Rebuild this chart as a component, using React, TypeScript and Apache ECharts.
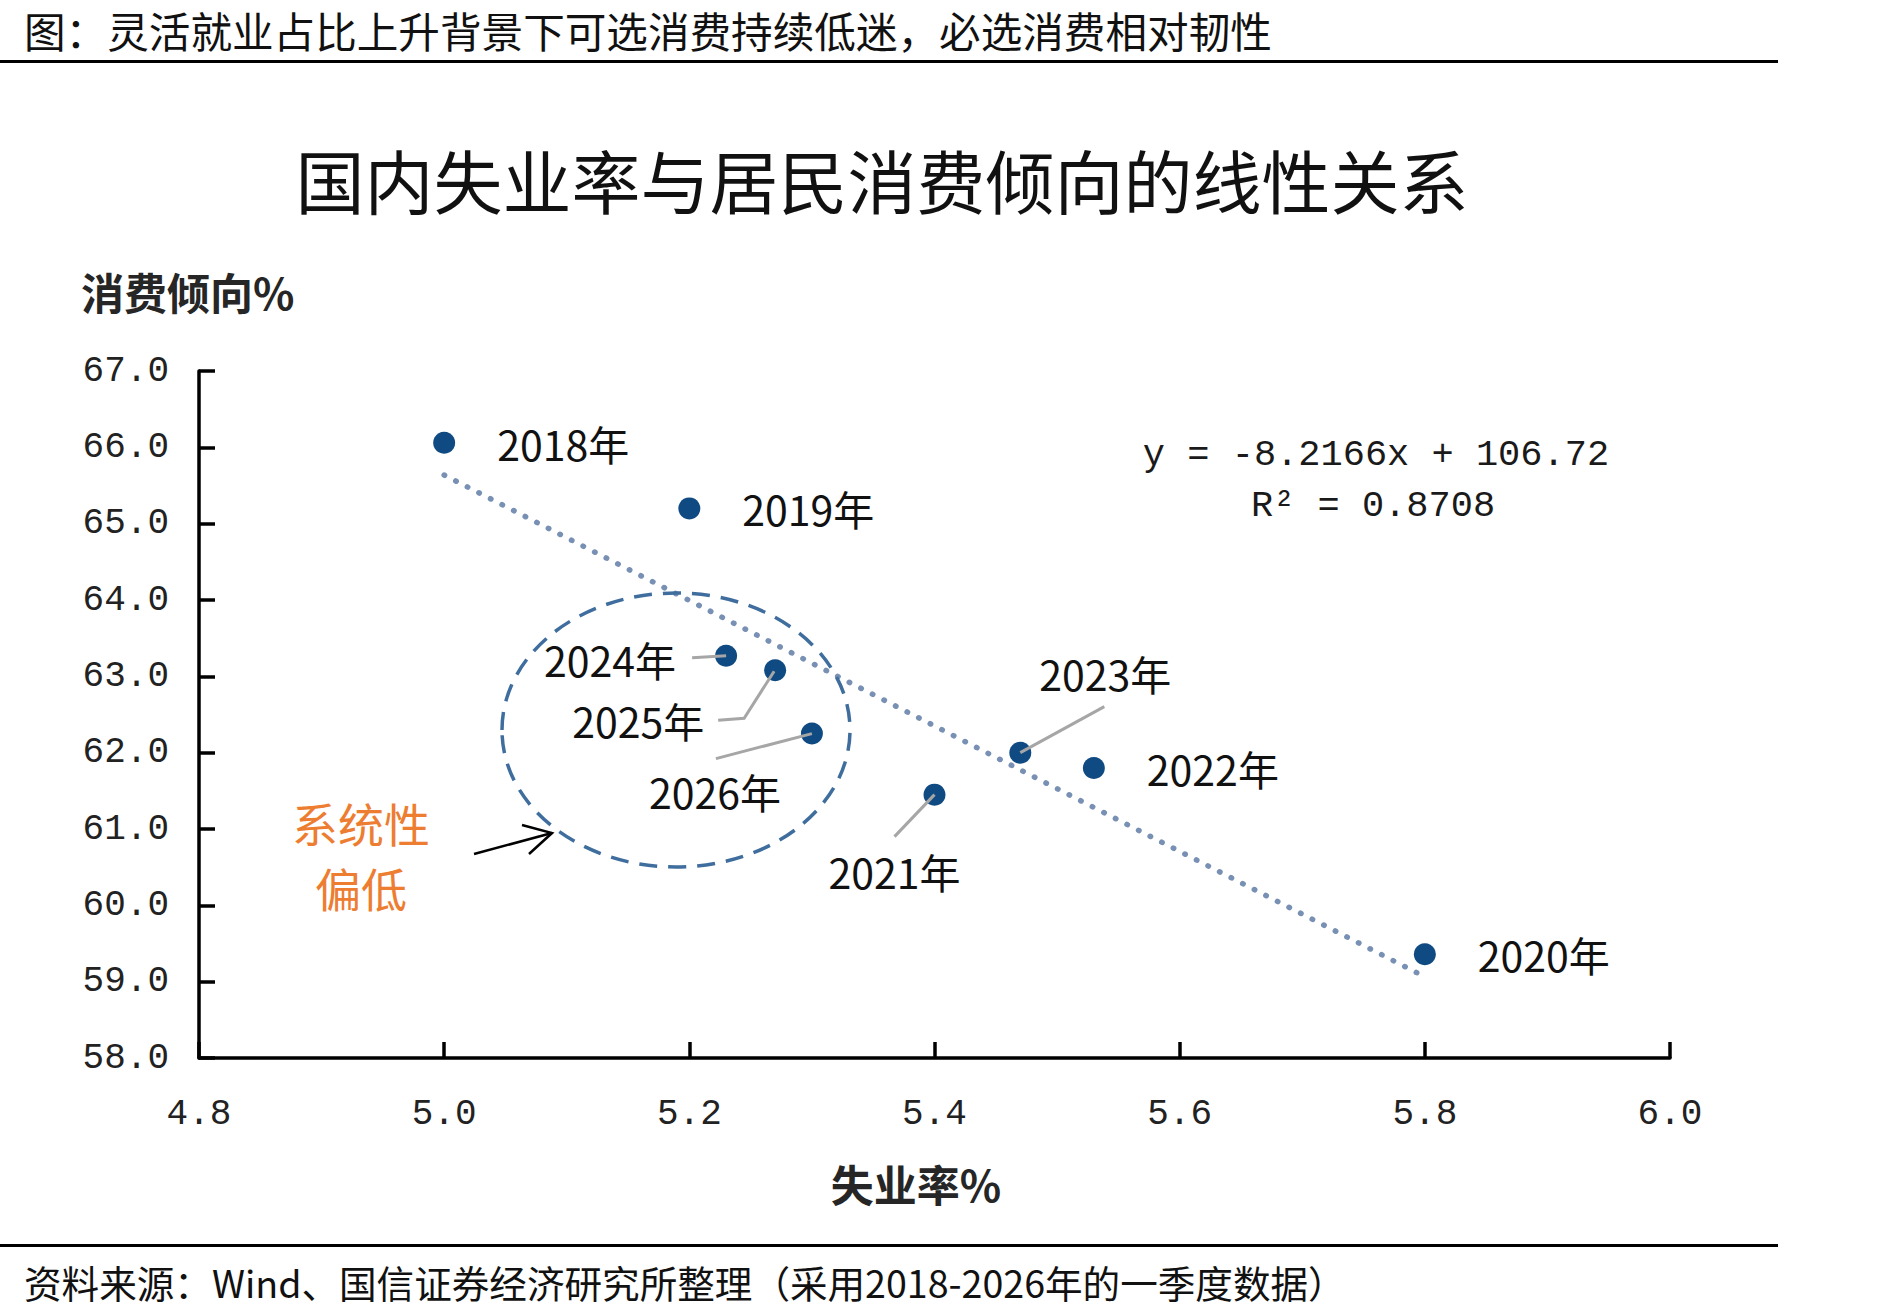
import React, { useEffect, useRef } from "react";
import * as echarts from "echarts";

// Q1 observations: urban surveyed unemployment rate (%) vs. consumption propensity (%)
const years = ["2018年", "2019年", "2020年", "2021年", "2022年", "2023年", "2024年", "2025年", "2026年"];
const unemployment = [5.0, 5.2, 5.8, 5.4, 5.53, 5.47, 5.23, 5.27, 5.3];
const propensity = [66.06, 65.2, 59.36, 61.45, 61.8, 62.0, 63.27, 63.08, 62.25];

// Fitted linear trend
const trendSlope = -8.2166;
const trendIntercept = 106.72;
const trendR2 = 0.8708;
const trendFrom = 5.0;
const trendTo = 5.8;

// Axis ranges
const xMin = 4.8;
const xMax = 6.0;
const xStep = 0.2;
const yMin = 58;
const yMax = 67;
const yStep = 1;

const headerText = "图：灵活就业占比上升背景下可选消费持续低迷，必选消费相对韧性";
const chartTitle = "国内失业率与居民消费倾向的线性关系";
const yName = "消费倾向%";
const xName = "失业率%";
const noteLines = ["系统性", "偏低"];
const sourceText = "资料来源：Wind、国信证券经济研究所整理（采用2018-2026年的一季度数据）";

const CJK = '"Noto Sans CJK SC", "Noto Sans", sans-serif';
const MONO = '"Liberation Mono", "DejaVu Sans Mono", monospace';
const DOT = "#0f4a82";
const LEADER = "#a6a6a6";

// Label placement (pixel offsets from the marker centre); unlisted years sit to the right
const labelPlacement: Record<string, { offset: [number, number]; leader: [number, number][] }> = {
  "2024年": { offset: [-116, 3], leader: [[-34, 2], [0, 0]] },
  "2025年": { offset: [-137, 50], leader: [[-57, 50], [-31, 48], [-1, 1]] },
  "2026年": { offset: [-97, 57], leader: [[-96, 25], [0, 0]] },
  "2021年": { offset: [-40, 76], leader: [[-40, 42], [0, 0]] },
  "2023年": { offset: [85, -80], leader: [[84, -46], [0, 0]] },
};

function staticGraphics(): any[] {
  const txt = (text: string, x: number, y: number, size: number, opts: any = {}) => ({
    type: "text",
    x,
    y,
    z: 20,
    style: {
      text,
      fill: opts.fill || "#111",
      font: `${opts.weight || "normal"} ${size}px ${opts.family || CJK}`,
      textAlign: opts.align || "left",
      textVerticalAlign: "middle",
      lineHeight: Math.round(size * 1.08),
    },
  });
  return [
    txt(headerText, 24, 30, 41.6),
    { type: "rect", shape: { x: 0, y: 60, width: 1778, height: 3 }, style: { fill: "#000" } },
    txt(chartTitle, 882, 179, 69, { align: "center" }),
    txt(yName, 81, 291, 43, { weight: "bold", fill: "#262626" }),
    txt(xName, 916, 1183, 43, { weight: "bold", fill: "#262626", align: "center" }),
    txt(`y = ${trendSlope.toFixed(4)}x + ${trendIntercept.toFixed(2)}`, 1376, 455, 37, {
      family: MONO,
      align: "center",
      fill: "#1a1a1a",
    }),
    txt(`R² = ${trendR2.toFixed(4)}`, 1373, 506, 37, { family: MONO, align: "center", fill: "#1a1a1a" }),
    {
      type: "ellipse",
      z: 15,
      shape: { cx: 676, cy: 730, rx: 174, ry: 137 },
      style: { fill: "none", stroke: "#3f6e9e", lineWidth: 3.5, lineDash: [18, 11] },
    },
    txt(noteLines[0], 361, 822, 46, { fill: "#ed7d31", align: "center" }),
    txt(noteLines[1], 361, 887, 46, { fill: "#ed7d31", align: "center" }),
    {
      type: "polyline",
      z: 15,
      shape: { points: [[474, 854], [552, 833]] },
      style: { stroke: "#000", lineWidth: 2.5, fill: "none" },
    },
    {
      type: "polyline",
      z: 15,
      shape: { points: [[522, 825], [552, 833], [529, 854]] },
      style: { stroke: "#000", lineWidth: 2.5, fill: "none" },
    },
    { type: "rect", shape: { x: 0, y: 1244, width: 1778, height: 3 }, style: { fill: "#000" } },
    txt(sourceText, 24, 1281, 37.6),
  ];
}

export default function App() {
  const ref = useRef<HTMLDivElement>(null);

  useEffect(() => {
    if (!ref.current) return;
    const chart = echarts.init(ref.current, undefined, { renderer: "svg" });

    const points = years.map((name, i) => {
      const place = labelPlacement[name];
      return {
        name,
        value: [unemployment[i], propensity[i]],
        label: place
          ? { position: "inside", offset: place.offset, align: "center", verticalAlign: "middle" }
          : { position: "right", distance: 42 },
      };
    });

    const axisLine = { show: true, onZero: false, lineStyle: { color: "#000", width: 3.5 } };
    const axisTick = { show: true, inside: true, length: 16, lineStyle: { color: "#000", width: 3.5 } };

    chart.setOption({
      animation: false,
      backgroundColor: "#fff",
      grid: { left: 199, top: 371, width: 1471, height: 687, containLabel: false },
      xAxis: {
        type: "value",
        min: xMin,
        max: xMax,
        interval: xStep,
        axisLine,
        axisTick,
        splitLine: { show: false },
        axisLabel: {
          margin: 38,
          color: "#222",
          fontFamily: MONO,
          fontSize: 36,
          formatter: (v: number) => v.toFixed(1),
        },
      },
      yAxis: {
        type: "value",
        min: yMin,
        max: yMax,
        interval: yStep,
        axisLine,
        axisTick,
        splitLine: { show: false },
        axisLabel: {
          margin: 30,
          color: "#222",
          fontFamily: MONO,
          fontSize: 36,
          formatter: (v: number) => v.toFixed(1),
        },
      },
      series: [
        {
          type: "line",
          z: 1,
          silent: true,
          symbol: "none",
          data: [trendFrom, trendTo].map((x) => [x, trendSlope * x + trendIntercept]),
          lineStyle: { color: "#7890b3", width: 5.5, type: [0.5, 12.5], cap: "round" },
        },
        {
          type: "scatter",
          z: 3,
          symbolSize: 22,
          itemStyle: { color: DOT, opacity: 1 },
          data: points,
          label: {
            show: true,
            formatter: (p: any) => p.name,
            color: "#111",
            fontFamily: CJK,
            fontSize: 41,
          },
        },
      ],
    });

    const leaders = years
      .map((name, i) => {
        const place = labelPlacement[name];
        if (!place) return null;
        const c = chart.convertToPixel({ gridIndex: 0 }, [unemployment[i], propensity[i]]) as number[];
        return {
          type: "polyline",
          z: 10,
          shape: { points: place.leader.map(([dx, dy]) => [c[0] + dx, c[1] + dy]) },
          style: { stroke: LEADER, lineWidth: 3, fill: "none" },
        };
      })
      .filter(Boolean);

    chart.setOption({ graphic: [...staticGraphics(), ...leaders] });

    return () => chart.dispose();
  }, []);

  return (
    <div
      ref={ref}
      style={{ position: "absolute", left: 0, top: 0, width: 1877, height: 1315, background: "#fff" }}
    />
  );
}
